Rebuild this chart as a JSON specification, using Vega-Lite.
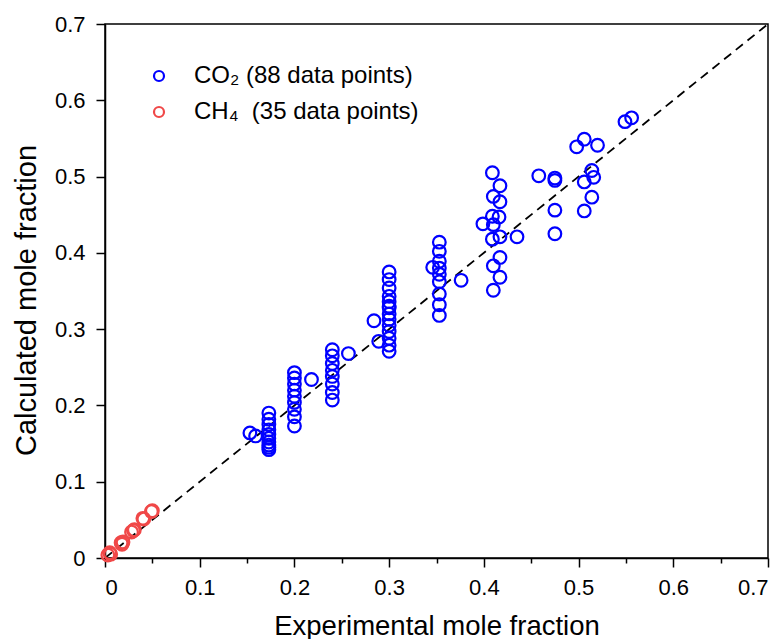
{
  "$schema": "https://vega.github.io/schema/vega-lite/v6.json",
  "width": 663,
  "height": 534,
  "autosize": {"type": "none"},
  "padding": {"left": 105, "top": 24, "right": 16, "bottom": 81},
  "background": "white",
  "config": {
    "font": "Liberation Sans",
    "view": {"stroke": "black", "strokeWidth": 1.5},
    "axis": {
      "grid": false,
      "domainColor": "black",
      "domainWidth": 1.5,
      "tickColor": "black",
      "tickWidth": 1.5,
      "labelFont": "Liberation Sans",
      "labelFontSize": 22,
      "labelColor": "black",
      "labelOverlap": false,
      "titleFont": "Liberation Sans",
      "titleFontWeight": "normal",
      "titleColor": "black"
    }
  },
  "datasets": {
    "diag": [{"x": 0, "y": 0}, {"x": 0.7, "y": 0.7}],
    "pts": [
      {"x": 0.153, "y": 0.164, "gas": "CO₂ (88 data points)"},
      {"x": 0.159, "y": 0.160, "gas": "CO₂ (88 data points)"},
      {"x": 0.173, "y": 0.190, "gas": "CO₂ (88 data points)"},
      {"x": 0.173, "y": 0.182, "gas": "CO₂ (88 data points)"},
      {"x": 0.173, "y": 0.175, "gas": "CO₂ (88 data points)"},
      {"x": 0.173, "y": 0.168, "gas": "CO₂ (88 data points)"},
      {"x": 0.173, "y": 0.162, "gas": "CO₂ (88 data points)"},
      {"x": 0.173, "y": 0.157, "gas": "CO₂ (88 data points)"},
      {"x": 0.173, "y": 0.152, "gas": "CO₂ (88 data points)"},
      {"x": 0.173, "y": 0.148, "gas": "CO₂ (88 data points)"},
      {"x": 0.173, "y": 0.145, "gas": "CO₂ (88 data points)"},
      {"x": 0.173, "y": 0.142, "gas": "CO₂ (88 data points)"},
      {"x": 0.2, "y": 0.243, "gas": "CO₂ (88 data points)"},
      {"x": 0.2, "y": 0.236, "gas": "CO₂ (88 data points)"},
      {"x": 0.2, "y": 0.228, "gas": "CO₂ (88 data points)"},
      {"x": 0.2, "y": 0.220, "gas": "CO₂ (88 data points)"},
      {"x": 0.2, "y": 0.212, "gas": "CO₂ (88 data points)"},
      {"x": 0.2, "y": 0.204, "gas": "CO₂ (88 data points)"},
      {"x": 0.2, "y": 0.195, "gas": "CO₂ (88 data points)"},
      {"x": 0.2, "y": 0.185, "gas": "CO₂ (88 data points)"},
      {"x": 0.2, "y": 0.173, "gas": "CO₂ (88 data points)"},
      {"x": 0.218, "y": 0.234, "gas": "CO₂ (88 data points)"},
      {"x": 0.24, "y": 0.273, "gas": "CO₂ (88 data points)"},
      {"x": 0.24, "y": 0.265, "gas": "CO₂ (88 data points)"},
      {"x": 0.24, "y": 0.255, "gas": "CO₂ (88 data points)"},
      {"x": 0.24, "y": 0.246, "gas": "CO₂ (88 data points)"},
      {"x": 0.24, "y": 0.238, "gas": "CO₂ (88 data points)"},
      {"x": 0.24, "y": 0.228, "gas": "CO₂ (88 data points)"},
      {"x": 0.24, "y": 0.217, "gas": "CO₂ (88 data points)"},
      {"x": 0.24, "y": 0.207, "gas": "CO₂ (88 data points)"},
      {"x": 0.257, "y": 0.268, "gas": "CO₂ (88 data points)"},
      {"x": 0.284, "y": 0.311, "gas": "CO₂ (88 data points)"},
      {"x": 0.289, "y": 0.284, "gas": "CO₂ (88 data points)"},
      {"x": 0.3, "y": 0.375, "gas": "CO₂ (88 data points)"},
      {"x": 0.3, "y": 0.365, "gas": "CO₂ (88 data points)"},
      {"x": 0.3, "y": 0.354, "gas": "CO₂ (88 data points)"},
      {"x": 0.3, "y": 0.343, "gas": "CO₂ (88 data points)"},
      {"x": 0.3, "y": 0.336, "gas": "CO₂ (88 data points)"},
      {"x": 0.3, "y": 0.330, "gas": "CO₂ (88 data points)"},
      {"x": 0.3, "y": 0.328, "gas": "CO₂ (88 data points)"},
      {"x": 0.3, "y": 0.320, "gas": "CO₂ (88 data points)"},
      {"x": 0.3, "y": 0.313, "gas": "CO₂ (88 data points)"},
      {"x": 0.3, "y": 0.305, "gas": "CO₂ (88 data points)"},
      {"x": 0.3, "y": 0.297, "gas": "CO₂ (88 data points)"},
      {"x": 0.3, "y": 0.288, "gas": "CO₂ (88 data points)"},
      {"x": 0.3, "y": 0.279, "gas": "CO₂ (88 data points)"},
      {"x": 0.3, "y": 0.271, "gas": "CO₂ (88 data points)"},
      {"x": 0.346, "y": 0.381, "gas": "CO₂ (88 data points)"},
      {"x": 0.353, "y": 0.414, "gas": "CO₂ (88 data points)"},
      {"x": 0.353, "y": 0.402, "gas": "CO₂ (88 data points)"},
      {"x": 0.353, "y": 0.389, "gas": "CO₂ (88 data points)"},
      {"x": 0.353, "y": 0.380, "gas": "CO₂ (88 data points)"},
      {"x": 0.353, "y": 0.372, "gas": "CO₂ (88 data points)"},
      {"x": 0.353, "y": 0.362, "gas": "CO₂ (88 data points)"},
      {"x": 0.353, "y": 0.346, "gas": "CO₂ (88 data points)"},
      {"x": 0.353, "y": 0.332, "gas": "CO₂ (88 data points)"},
      {"x": 0.353, "y": 0.318, "gas": "CO₂ (88 data points)"},
      {"x": 0.376, "y": 0.364, "gas": "CO₂ (88 data points)"},
      {"x": 0.399, "y": 0.438, "gas": "CO₂ (88 data points)"},
      {"x": 0.409, "y": 0.505, "gas": "CO₂ (88 data points)"},
      {"x": 0.417, "y": 0.488, "gas": "CO₂ (88 data points)"},
      {"x": 0.410, "y": 0.474, "gas": "CO₂ (88 data points)"},
      {"x": 0.417, "y": 0.467, "gas": "CO₂ (88 data points)"},
      {"x": 0.409, "y": 0.448, "gas": "CO₂ (88 data points)"},
      {"x": 0.416, "y": 0.447, "gas": "CO₂ (88 data points)"},
      {"x": 0.410, "y": 0.437, "gas": "CO₂ (88 data points)"},
      {"x": 0.409, "y": 0.418, "gas": "CO₂ (88 data points)"},
      {"x": 0.417, "y": 0.421, "gas": "CO₂ (88 data points)"},
      {"x": 0.417, "y": 0.394, "gas": "CO₂ (88 data points)"},
      {"x": 0.410, "y": 0.383, "gas": "CO₂ (88 data points)"},
      {"x": 0.417, "y": 0.368, "gas": "CO₂ (88 data points)"},
      {"x": 0.410, "y": 0.351, "gas": "CO₂ (88 data points)"},
      {"x": 0.435, "y": 0.421, "gas": "CO₂ (88 data points)"},
      {"x": 0.458, "y": 0.501, "gas": "CO₂ (88 data points)"},
      {"x": 0.475, "y": 0.498, "gas": "CO₂ (88 data points)"},
      {"x": 0.475, "y": 0.495, "gas": "CO₂ (88 data points)"},
      {"x": 0.475, "y": 0.456, "gas": "CO₂ (88 data points)"},
      {"x": 0.475, "y": 0.425, "gas": "CO₂ (88 data points)"},
      {"x": 0.498, "y": 0.539, "gas": "CO₂ (88 data points)"},
      {"x": 0.506, "y": 0.549, "gas": "CO₂ (88 data points)"},
      {"x": 0.520, "y": 0.541, "gas": "CO₂ (88 data points)"},
      {"x": 0.514, "y": 0.508, "gas": "CO₂ (88 data points)"},
      {"x": 0.516, "y": 0.499, "gas": "CO₂ (88 data points)"},
      {"x": 0.506, "y": 0.493, "gas": "CO₂ (88 data points)"},
      {"x": 0.514, "y": 0.473, "gas": "CO₂ (88 data points)"},
      {"x": 0.506, "y": 0.455, "gas": "CO₂ (88 data points)"},
      {"x": 0.549, "y": 0.572, "gas": "CO₂ (88 data points)"},
      {"x": 0.556, "y": 0.577, "gas": "CO₂ (88 data points)"},
      {"x": 0.003, "y": 0.004, "gas": "CH₄\u00a0 (35 data points)"},
      {"x": 0.005, "y": 0.007, "gas": "CH₄\u00a0 (35 data points)"},
      {"x": 0.006, "y": 0.005, "gas": "CH₄\u00a0 (35 data points)"},
      {"x": 0.017, "y": 0.020, "gas": "CH₄\u00a0 (35 data points)"},
      {"x": 0.018, "y": 0.018, "gas": "CH₄\u00a0 (35 data points)"},
      {"x": 0.019, "y": 0.021, "gas": "CH₄\u00a0 (35 data points)"},
      {"x": 0.028, "y": 0.034, "gas": "CH₄\u00a0 (35 data points)"},
      {"x": 0.030, "y": 0.036, "gas": "CH₄\u00a0 (35 data points)"},
      {"x": 0.031, "y": 0.037, "gas": "CH₄\u00a0 (35 data points)"},
      {"x": 0.040, "y": 0.052, "gas": "CH₄\u00a0 (35 data points)"},
      {"x": 0.041, "y": 0.051, "gas": "CH₄\u00a0 (35 data points)"},
      {"x": 0.050, "y": 0.062, "gas": "CH₄\u00a0 (35 data points)"},
      {"x": 0.049, "y": 0.061, "gas": "CH₄\u00a0 (35 data points)"}
    ]
  },
  "layer": [
    {
      "data": {"name": "diag"},
      "mark": {"type": "line", "color": "black", "strokeDash": [9, 6], "strokeWidth": 1.8},
      "encoding": {
        "x": {"field": "x", "type": "quantitative", "scale": {"domain": [0, 0.7], "nice": false},
          "axis": {"title": "Experimental mole fraction", "titleFontSize": 27.5,
            "titleBaseline": "alphabetic", "titleY": 76,
            "values": [0, 0.05, 0.1, 0.15, 0.2, 0.25, 0.3, 0.35, 0.4, 0.45, 0.5, 0.55, 0.6, 0.65, 0.7],
            "tickSize": {"condition": {"test": "round(datum.value*100) % 10 === 0", "value": 9}, "value": 5},
            "labelExpr": "round(datum.value*100) % 10 === 0 ? format(datum.value, '.1~f') : ''",
            "labelPadding": 10}},
        "y": {"field": "y", "type": "quantitative", "scale": {"domain": [0, 0.7], "nice": false},
          "axis": {"title": "Calculated mole fraction", "titleFontSize": 29,
            "titleBaseline": "alphabetic", "titleX": -70, "titleY": 276, "titleAngle": 270, "titleAlign": "center",
            "values": [0, 0.05, 0.1, 0.15, 0.2, 0.25, 0.3, 0.35, 0.4, 0.45, 0.5, 0.55, 0.6, 0.65, 0.7],
            "tickSize": {"condition": {"test": "round(datum.value*100) % 10 === 0", "value": 9}, "value": 5},
            "labelExpr": "round(datum.value*100) % 10 === 0 ? format(datum.value, '.1~f') : ''",
            "labelPadding": 11}}
      }
    },
    {
      "data": {"name": "pts"},
      "mark": {"type": "point", "shape": "circle", "filled": false, "size": 160, "strokeWidth": 2.2, "opacity": 1},
      "encoding": {
        "x": {"field": "x", "type": "quantitative"},
        "y": {"field": "y", "type": "quantitative"},
        "color": {"field": "gas", "type": "nominal",
          "scale": {"domain": ["CO₂ (88 data points)", "CH₄\u00a0 (35 data points)"], "range": ["#0000FF", "#F04848"]},
          "legend": {"title": null, "orient": "none", "legendX": 42, "legendY": 40,
            "labelFontSize": 24, "labelFont": "Liberation Sans", "labelColor": "black", "labelLimit": 0,
            "symbolSize": 100, "symbolStrokeWidth": 2.2, "symbolType": "circle",
            "rowPadding": 12, "labelOffset": 23}}
      }
    }
  ]
}
